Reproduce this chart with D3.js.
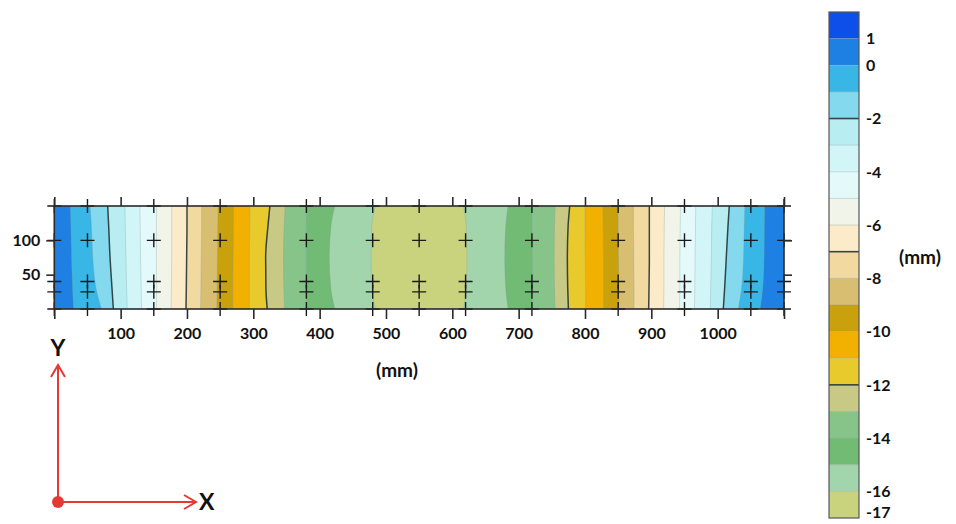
<!DOCTYPE html>
<html>
<head>
<meta charset="utf-8">
<script src="https://cdn.jsdelivr.net/npm/d3@7"></script>
<style>
  body { margin: 0; background: #fff; }
  svg text { font-family: Lato, "Open Sans", sans-serif; font-weight: bold; fill: #111; }
</style>
</head>
<body>
<div id="chart"></div>
<script>
// contour levels (mm) and where each one crosses the strip, read at the heights in sampleY
const levels = [0, -1, -2, -3, -4, -5, -6, -7, -8, -9, -10, -11, -12, -13, -14, -15, -16]
const sampleY = [150, 120, 75, 30, 0]
const leftX = [
  [24, 25, 26, 27.5, 29],
  [54, 56, 58, 63, 71],
  [80.5, 82, 84, 87, 89],
  [106.5, 107, 108, 109, 110],
  [129, 129.5, 130, 131, 131.5],
  [154, 154, 154, 154, 154],
  [177, 177, 177, 176.5, 176],
  [200, 200, 199.5, 199, 198.5],
  [222, 222, 221.5, 221, 220.5],
  [247, 246.5, 246, 245.5, 245],
  [270, 270, 269.5, 269, 269],
  [295, 294.5, 294, 294, 294],
  [325, 322, 318.6, 319, 321],
  [348, 346.5, 345.5, 346, 347],
  [381, 380, 380, 380, 381],
  [423, 417, 414.6, 417, 423],
  [484, 478.5, 477.5, 478.5, 484]
]
const rightX = [
  [1071, 1070.5, 1070, 1068, 1064],
  [1041, 1040, 1039, 1036, 1031],
  [1017.5, 1015.5, 1013, 1010.5, 1008.5],
  [992, 991, 990.5, 989.5, 989],
  [967, 966.5, 966, 965.5, 965],
  [944, 943.5, 943, 943, 942.5],
  [920, 919.5, 919, 919, 918.5],
  [897, 897, 897, 896.5, 896],
  [873, 873, 873.5, 874, 874],
  [850, 850, 850.5, 851, 851],
  [827, 827.5, 828, 828, 828.5],
  [800, 800, 800.5, 801, 801],
  [777, 774.5, 773.4, 774, 775],
  [755, 754, 753.5, 754, 755],
  [720, 720, 720.5, 720.5, 720],
  [684, 680.5, 679, 680.5, 684],
  [617, 621, 622, 621, 617]
]
const boldLevels = [-2, -7, -12]

// colour bands of the legend, from [1,2] at the top down to [-17,-16]
const bandColors = [
  '#0d4fe8', '#1e80e2', '#38b6e6', '#85d9ee', '#b8eef2', '#d2f5f8', '#e4fafa',
  '#f1f5e9', '#fbebc8', '#f2d9a0', '#d8be70', '#c9a10c', '#f2b000', '#e8ca2c',
  '#c8c985', '#86c489', '#72bb74', '#a3d5ad', '#c9d27d'
]
const barTicks = [1, 0, -2, -4, -6, -8, -10, -12, -14, -16, -17]

const xTicks = [0, 100, 200, 300, 400, 500, 600, 700, 800, 900, 1000, 1100]
const yTicks = [50, 100]
// measurement points
const pointX = [0, 50, 150, 250, 380, 480, 550, 620, 720, 850, 950, 1050, 1100]
const pointY = [0, 25, 40, 100, 150]

const width = 956
const height = 524

const x = d3.scaleLinear().domain([0, 1100]).range([54.3, 784])
const y = d3.scaleLinear().domain([0, 150]).range([309, 206])
const bar = d3.scaleLinear().domain([2, -17]).range([12, 518])
const bandColor = top => bandColors[2 - top]

const svg = d3.select('#chart')
  .append('svg')
  .attr('width', width)
  .attr('height', height)

svg.append('clipPath')
  .attr('id', 'plotClip')
  .append('rect')
  .attr('x', x(0))
  .attr('y', y(150))
  .attr('width', x(1100) - x(0))
  .attr('height', y(0) - y(150))

const plot = svg.append('g').attr('clip-path', 'url(#plotClip)')

// base colour at the two ends of the strip
plot.append('rect')
  .attr('x', x(0))
  .attr('y', y(150))
  .attr('width', x(1100) - x(0))
  .attr('height', y(0) - y(150))
  .attr('fill', bandColor(1))

const rows = levels.map((lv, k) => sampleY.map((yy, j) => ({ y: yy, l: leftX[k][j], r: rightX[k][j] })))

const area = d3.area()
  .y(d => y(d.y))
  .x0(d => x(d.l))
  .x1(d => x(d.r))
  .curve(d3.curveMonotoneY)

plot.selectAll('path.band')
  .data(levels)
  .enter()
  .append('path')
  .attr('class', 'band')
  .attr('d', (lv, k) => area(rows[k]))
  .attr('fill', lv => bandColor(lv))

const lineL = d3.line().x(d => x(d.l)).y(d => y(d.y)).curve(d3.curveMonotoneY)
const lineR = d3.line().x(d => x(d.r)).y(d => y(d.y)).curve(d3.curveMonotoneY)

levels.forEach((lv, k) => {
  const bold = boldLevels.includes(lv)
  ;[lineL, lineR].forEach(ln => {
    plot.append('path')
      .attr('d', ln(rows[k]))
      .attr('fill', 'none')
      .attr('stroke', bold ? '#243434' : '#7f9aa0')
      .attr('stroke-opacity', bold ? 0.9 : 0.3)
      .attr('stroke-width', bold ? 1.5 : 1)
  })
})

// measurement crosses
const pts = []
pointX.forEach(px => pointY.forEach(py => pts.push([px, py])))
svg.append('g')
  .selectAll('path')
  .data(pts)
  .enter()
  .append('path')
  .attr('d', d => `M${x(d[0]) - 7},${y(d[1])}H${x(d[0]) + 7}M${x(d[0])},${y(d[1]) - 7}V${y(d[1]) + 7}`)
  .attr('stroke', '#1a1a1a')
  .attr('stroke-width', 1.4)

// frame
svg.append('rect')
  .attr('x', x(0))
  .attr('y', y(150))
  .attr('width', x(1100) - x(0))
  .attr('height', y(0) - y(150))
  .attr('fill', 'none')
  .attr('stroke', '#2a2a2a')
  .attr('stroke-width', 1.6)

const styleAxis = g => {
  g.select('.domain').remove()
  g.selectAll('.tick line').attr('stroke', '#2a2a2a').attr('stroke-width', 1.6)
  g.selectAll('.tick text').style('font-size', '16px').attr('fill', '#111')
}

svg.append('g')
  .attr('transform', `translate(0, ${y(0)})`)
  .call(d3.axisBottom(x).tickValues(xTicks).tickSize(10).tickPadding(9)
    .tickFormat(d => (d === 0 || d === 1100) ? '' : d))
  .call(styleAxis)

svg.append('g')
  .attr('transform', `translate(0, ${y(150)})`)
  .call(d3.axisTop(x).tickValues(xTicks).tickSize(9).tickFormat(''))
  .call(styleAxis)

svg.append('g')
  .attr('transform', `translate(${x(0)}, 0)`)
  .call(d3.axisLeft(y).tickValues(yTicks).tickSize(8).tickPadding(6))
  .call(styleAxis)

svg.append('g')
  .attr('transform', `translate(${x(1100)}, 0)`)
  .call(d3.axisRight(y).tickValues(yTicks).tickSize(8).tickFormat(''))
  .call(styleAxis)

svg.append('text')
  .attr('x', 397)
  .attr('y', 370)
  .attr('dy', '0.36em')
  .attr('text-anchor', 'middle')
  .style('font-size', '19px')
  .text('(mm)')

// colour bar
const barX = 829
const barW = 30
const bands = bandColors.map((c, i) => ({ top: 2 - i, color: c }))
svg.append('g')
  .selectAll('rect')
  .data(bands)
  .enter()
  .append('rect')
  .attr('x', barX)
  .attr('y', d => bar(d.top))
  .attr('width', barW)
  .attr('height', d => bar(d.top - 1) - bar(d.top))
  .attr('fill', d => d.color)

svg.append('g')
  .selectAll('line')
  .data(d3.range(1, 19).map(i => 2 - i))
  .enter()
  .append('line')
  .attr('x1', barX)
  .attr('x2', barX + barW)
  .attr('y1', d => bar(d))
  .attr('y2', d => bar(d))
  .attr('stroke', d => boldLevels.includes(d) ? '#243434' : '#8a9a9a')
  .attr('stroke-opacity', d => boldLevels.includes(d) ? 0.9 : 0.35)
  .attr('stroke-width', d => boldLevels.includes(d) ? 1.6 : 1)

svg.append('rect')
  .attr('x', barX)
  .attr('y', bar(2))
  .attr('width', barW)
  .attr('height', bar(-17) - bar(2))
  .attr('fill', 'none')
  .attr('stroke', '#555')
  .attr('stroke-width', 1.2)

svg.append('g')
  .selectAll('text')
  .data(barTicks)
  .enter()
  .append('text')
  .attr('x', 866)
  .attr('y', d => bar(d) + (d === -17 ? -6 : 0))
  .attr('dy', '0.36em')
  .style('font-size', '16px')
  .text(d => d)

svg.append('text')
  .attr('x', 899)
  .attr('y', 257)
  .attr('dy', '0.36em')
  .style('font-size', '19px')
  .text('(mm)')

// orientation sketch
const red = '#e53935'
const ox = 58
const oy = 502
const ind = svg.append('g').attr('stroke', red).attr('stroke-width', 2).attr('fill', 'none')
ind.append('path').attr('d', `M${ox},${oy}V365M${ox - 7},377L${ox},365L${ox + 7},377`)
ind.append('path').attr('d', `M${ox},${oy}H196M184,${oy - 7}L196,${oy}L184,${oy + 7}`)
svg.append('circle').attr('cx', ox).attr('cy', oy).attr('r', 6).attr('fill', red)

svg.append('text')
  .attr('x', ox)
  .attr('y', 356)
  .attr('text-anchor', 'middle')
  .style('font-size', '23px')
  .text('Y')

svg.append('text')
  .attr('x', 199)
  .attr('y', 510)
  .style('font-size', '23px')
  .text('X')
</script>
</body>
</html>
